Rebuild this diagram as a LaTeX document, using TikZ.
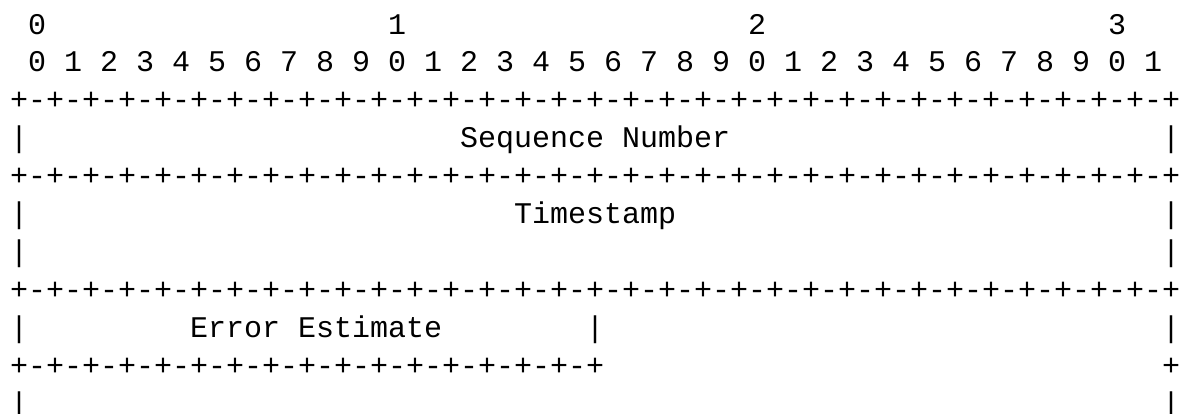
\documentclass[tikz,border=0pt]{standalone}
\usepackage{fontspec}
\newfontfamily\asciifont{Liberation Mono}
\begin{document}
\begin{tikzpicture}[x=18pt,y=-37.95pt,
  ascii/.style={font=\asciifont\fontsize{30}{36}\selectfont, inner sep=0pt, outer sep=0pt, anchor=base west, text=black}]
\useasboundingbox (0pt,0pt) rectangle (1185pt,-413pt);
\clip (0pt,0pt) rectangle (1185pt,-413pt);
\begin{scope}[shift={(10pt,-34pt)}]
  % bit ruler
  \node[ascii] (t0) at (1,0) {0};
  \node[ascii] (t1) at (21,0) {1};
  \node[ascii] (t2) at (41,0) {2};
  \node[ascii] (t3) at (61,0) {3};
  \node[ascii] (bits) at (1,1) {0 1 2 3 4 5 6 7 8 9 0 1 2 3 4 5 6 7 8 9 0 1 2 3 4 5 6 7 8 9 0 1};
  % border lines
  \node[ascii] (b1) at (0,2) {\foreach \i in {1,...,32}{+-}+};
  \node[ascii] (b2) at (0,4) {\foreach \i in {1,...,32}{+-}+};
  \node[ascii] (b3) at (0,7) {\foreach \i in {1,...,32}{+-}+};
  \node[ascii] (b4) at (0,9) {\foreach \i in {1,...,16}{+-}+};
  \node[ascii] (b4r) at (64,9) {+};
  % row: sequence number
  \node[ascii] (l3) at (0,3) {|};
  \node[ascii] (seq) at (25,3) {Sequence Number};
  \node[ascii] (r3) at (64,3) {|};
  % rows: timestamp
  \node[ascii] (l5) at (0,5) {|};
  \node[ascii] (ts) at (28,5) {Timestamp};
  \node[ascii] (r5) at (64,5) {|};
  \node[ascii] (l6) at (0,6) {|};
  \node[ascii] (r6) at (64,6) {|};
  % row: error estimate
  \node[ascii] (l8) at (0,8) {|};
  \node[ascii] (err) at (10,8) {Error Estimate};
  \node[ascii] (m8) at (32,8) {|};
  \node[ascii] (r8) at (64,8) {|};
  % last row
  \node[ascii] (l10) at (0,10) {|};
  \node[ascii] (r10) at (64,10) {|};
\end{scope}
\end{tikzpicture}
\end{document}
